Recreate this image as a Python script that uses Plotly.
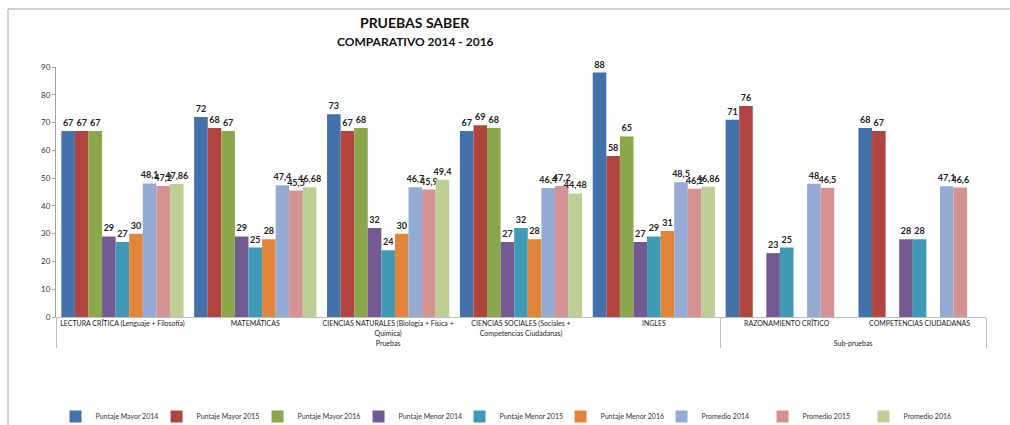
import plotly.graph_objects as go

groups = ["Pruebas"] * 5 + ["Sub-pruebas"] * 2
categories = [
    "LECTURA CRÍTICA (Lenguaje + Filosofía)",
    "MATEMÁTICAS",
    "CIENCIAS NATURALES (Biología + Física +<br>Química)",
    "CIENCIAS SOCIALES (Sociales +<br>Competencias Ciudadanas)",
    "INGLES",
    "RAZONAMIENTO CRÍTICO",
    "COMPETENCIAS CIUDADANAS",
]

series_names = [
    "Puntaje Mayor 2014", "Puntaje Mayor 2015", "Puntaje Mayor 2016",
    "Puntaje Menor 2014", "Puntaje Menor 2015", "Puntaje Menor 2016",
    "Promedio 2014", "Promedio 2015", "Promedio 2016",
]

mayor_2014 = [67, 72, 73, 67, 88, 71, 68]
mayor_2015 = [67, 68, 67, 69, 58, 76, 67]
mayor_2016 = [67, 67, 68, 68, 65, None, None]
menor_2014 = [29, 29, 32, 27, 27, 23, 28]
menor_2015 = [27, 25, 24, 32, 29, 25, 28]
menor_2016 = [30, 28, 30, 28, 31, None, None]
promedio_2014 = [48.1, 47.4, 46.7, 46.4, 48.5, 48, 47.1]
promedio_2015 = [47.2, 45.5, 45.9, 47.2, 46.2, 46.5, 46.6]
promedio_2016 = [47.86, 46.68, 49.4, 44.48, 46.86, None, None]

series_values = [mayor_2014, mayor_2015, mayor_2016,
                 menor_2014, menor_2015, menor_2016,
                 promedio_2014, promedio_2015, promedio_2016]

colors = ["#4372AA", "#B2443F", "#8AA74C",
          "#745A93", "#3E9AB5", "#E08539",
          "#95ABD3", "#D49392", "#BDCF95"]

FONT = "Lato, Open Sans, sans-serif"


def fmt(v):
    if v is None:
        return ""
    return f"{v:g}".replace(".", ",")


fig = go.Figure()
for name, vals, col in zip(series_names, series_values, colors):
    fig.add_trace(go.Bar(
        name=name,
        x=[groups, categories],
        y=vals,
        marker=dict(color=col, line=dict(width=0)),
        text=[fmt(v) for v in vals],
        textposition="outside",
        constraintext="none",
        cliponaxis=False,
        textfont=dict(family=FONT, size=9, color="#222222", weight="bold"),
    ))

PL, PR, PT, PB = 56, 24, 67, 108
PH = 425 - PT - PB

fig.update_layout(
    width=1010, height=425,
    margin=dict(l=PL, r=PR, t=PT, b=PB, autoexpand=False),
    paper_bgcolor="white",
    plot_bgcolor="white",
    barmode="group",
    bargap=0.08,
    bargroupgap=0,
    font=dict(family=FONT, size=8, color="#333333"),
    legend=dict(
        orientation="h",
        xref="container",
        x=0.505, xanchor="center",
        y=-(402 - 317) / PH, yanchor="top",
        font=dict(family=FONT, size=7, color="#333333"),
        itemwidth=30,
        entrywidth=56,
        entrywidthmode="pixels",
        tracegroupgap=0,
    ),
    showlegend=True,
    annotations=[
        dict(text="<b>PRUEBAS SABER</b>", xref="paper", yref="paper",
             x=(415 - PL) / 930, y=(317 - 22) / PH, xanchor="center", yanchor="middle",
             showarrow=False, font=dict(family=FONT, size=14, color="#111111")),
        dict(text="<b>COMPARATIVO 2014 - 2016</b>", xref="paper", yref="paper",
             x=(415 - PL) / 930, y=(317 - 42) / PH, xanchor="center", yanchor="middle",
             showarrow=False, font=dict(family=FONT, size=12, color="#111111")),
    ],
    shapes=[dict(type="rect", xref="paper", yref="paper",
                 x0=-48 / 930, x1=1.3, y0=-1.5, y1=(317 - 9) / PH,
                 line=dict(color="#A6A6A6", width=1), layer="below")],
)

fig.update_yaxes(
    range=[0, 90], dtick=10, showgrid=False, zeroline=False,
    showline=True, linecolor="#A0A0A0", linewidth=1,
    ticks="outside", ticklen=3, tickcolor="#A0A0A0",
    tickfont=dict(family=FONT, size=8, color="#333333"),
)
fig.update_xaxes(
    type="multicategory",
    tickangle=0,
    automargin=False,
    showline=True, linecolor="#BFBFBF", linewidth=1,
    showdividers=True, dividercolor="#BFBFBF", dividerwidth=1,
    tickfont=dict(family=FONT, size=7, color="#222222"),
    showgrid=False,
)

fig.write_html("out.html")
